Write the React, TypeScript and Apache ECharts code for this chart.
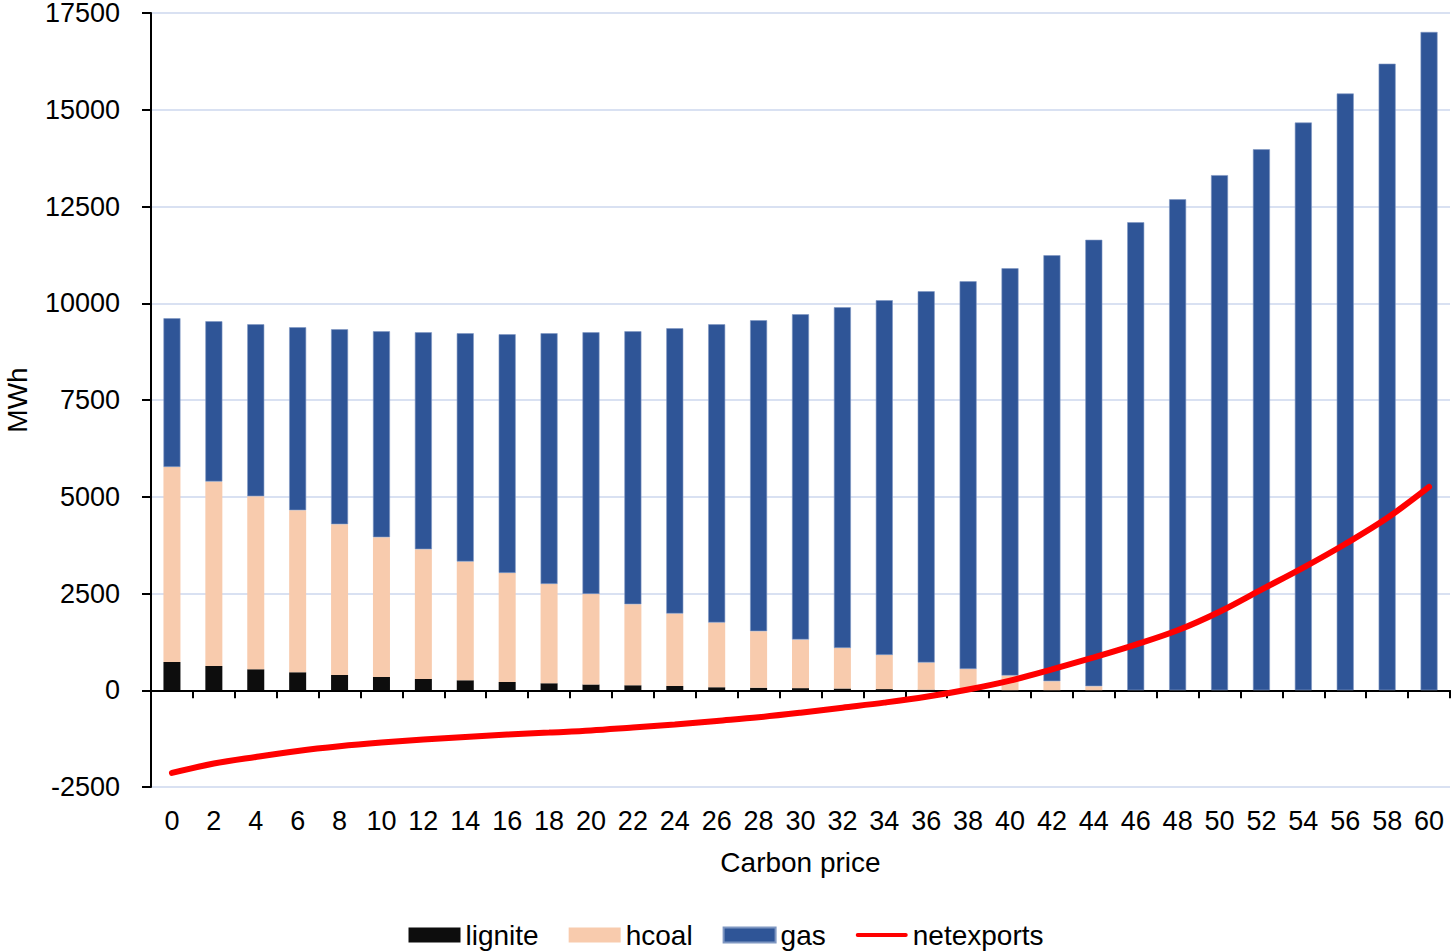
import React, { useEffect, useRef } from "react";
import * as echarts from "echarts";

// Carbon price scenarios (EUR/t)
const carbonPrice = [
  "0", "2", "4", "6", "8", "10", "12", "14", "16", "18", "20", "22", "24", "26", "28", "30",
  "32", "34", "36", "38", "40", "42", "44", "46", "48", "50", "52", "54", "56", "58", "60",
];

// Generation by fuel (MWh)
const lignite = [
  731, 628, 543, 465, 396, 344, 292, 258, 215, 181, 150, 129, 112, 78, 65, 55,
  45, 30, 15, 0, 0, 0, 0, 0, 0, 0, 0, 0, 0, 0, 0,
];
const hcoal = [
  5039, 4765, 4470, 4186, 3893, 3609, 3351, 3067, 2816, 2566, 2338, 2093, 1869, 1671, 1460, 1255,
  1048, 882, 701, 550, 379, 233, 103, 0, 0, 0, 0, 0, 0, 0, 0,
];
const gas = [
  3842, 4142, 4444, 4729, 5039, 5323, 5607, 5900, 6168, 6478, 6762, 7054, 7373, 7708, 8036, 8406,
  8804, 9166, 9594, 10018, 10525, 11007, 11537, 12093, 12687, 13310, 13979, 14670, 15420, 16190, 17010,
];
const netexports = [
  -2137, -1894, -1723, -1568, -1447, -1352, -1274, -1206, -1145, -1093, -1041, -964, -887, -793, -698, -580,
  -450, -320, -170, 20, 250, 540, 850, 1180, 1550, 2030, 2602, 3170, 3780, 4450, 5253,
];

const yTicks = { min: -2500, max: 17500, step: 2500 };

const FONT = "'Liberation Sans', Arial, sans-serif";
const INK = "#000000";
const TICK_SIZE = 27;
const TITLE_SIZE = 28;

// Legend glyph for the line series: a thick stroke centred in a 52x15 box
const LINE_ICON =
  "path://M0,0 L0.01,0 M0,15 L0.01,15 M1.5,5.5 L50.5,5.5 A2,2 0 0 1 50.5,9.5 L1.5,9.5 A2,2 0 0 1 1.5,5.5 Z";

export default function App() {
  const ref = useRef<HTMLDivElement>(null);

  useEffect(() => {
    if (!ref.current) return;
    const chart = echarts.init(ref.current, null, { renderer: "svg" });
    chart.setOption({
      animation: false,
      backgroundColor: "#ffffff",
      textStyle: { fontFamily: FONT, color: INK },
      grid: {
        left: 151,
        right: 2,
        top: 13,
        bottom: 164,
        containLabel: false,
        outerBoundsMode: "none",
      },
      legend: {
        left: "center",
        top: 916,
        itemWidth: 52,
        itemHeight: 15,
        itemGap: 30,
        textStyle: { fontFamily: FONT, fontSize: TITLE_SIZE, color: INK },
        data: [
          { name: "lignite", icon: "rect" },
          { name: "hcoal", icon: "rect" },
          { name: "gas", icon: "rect" },
          { name: "netexports", icon: LINE_ICON },
        ],
      },
      xAxis: [
        {
          type: "category",
          data: carbonPrice,
          boundaryGap: true,
          axisLine: { show: true, onZero: true, lineStyle: { color: INK, width: 2 } },
          axisTick: { show: true, length: 8, interval: 0, lineStyle: { color: INK, width: 2 } },
          axisLabel: { show: false },
          splitLine: { show: false },
        },
        {
          type: "category",
          data: carbonPrice,
          position: "bottom",
          boundaryGap: true,
          axisLine: { show: false, onZero: false },
          axisTick: { show: false },
          axisLabel: {
            show: true,
            interval: 0,
            fontFamily: FONT,
            fontSize: TICK_SIZE,
            color: INK,
            margin: 20,
          },
          splitLine: { show: false },
          name: "Carbon price",
          nameLocation: "middle",
          nameGap: 61,
          nameTextStyle: { fontFamily: FONT, fontSize: TITLE_SIZE, color: INK },
        },
      ],
      yAxis: {
        type: "value",
        min: yTicks.min,
        max: yTicks.max,
        interval: yTicks.step,
        name: "MWh",
        nameLocation: "middle",
        nameGap: 120,
        nameTextStyle: { fontFamily: FONT, fontSize: TITLE_SIZE, color: INK },
        axisLine: { show: true, lineStyle: { color: INK, width: 2 } },
        axisTick: { show: true, length: 9, lineStyle: { color: INK, width: 2 } },
        axisLabel: {
          fontFamily: FONT,
          fontSize: TICK_SIZE,
          color: INK,
          margin: 31,
          formatter: (v: number) => String(v),
        },
        splitLine: { show: true, lineStyle: { color: "#D9E1F2", width: 2 } },
      },
      series: [
        {
          name: "lignite",
          type: "bar",
          stack: "gen",
          xAxisIndex: 0,
          barWidth: 17,
          data: lignite,
          itemStyle: { color: "#0D0D0D" },
        },
        {
          name: "hcoal",
          type: "bar",
          stack: "gen",
          xAxisIndex: 0,
          barWidth: 17,
          data: hcoal,
          itemStyle: { color: "#F8CBAD" },
        },
        {
          name: "gas",
          type: "bar",
          stack: "gen",
          xAxisIndex: 0,
          barWidth: 17,
          data: gas,
          itemStyle: { color: "#2F5597", borderColor: "#7F97C2", borderWidth: 0.6 },
        },
        {
          name: "netexports",
          type: "line",
          xAxisIndex: 0,
          data: netexports,
          smooth: 0.35,
          symbol: "none",
          z: 5,
          itemStyle: { color: "#FF0000" },
          lineStyle: { color: "#FF0000", width: 6, cap: "round" },
        },
      ],
    });
    return () => chart.dispose();
  }, []);

  return (
    <div
      ref={ref}
      style={{ position: "fixed", left: 0, top: 0, width: 1452, height: 951 }}
    />
  );
}
